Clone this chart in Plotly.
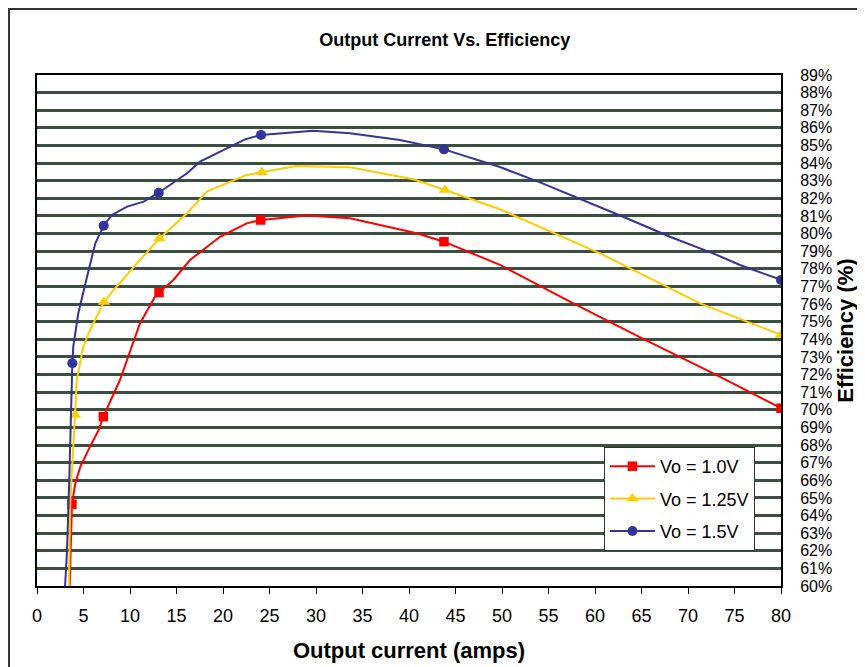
import plotly.graph_objects as go

# smoothed curves (amps, efficiency %)
red_x = [3.47, 3.58, 3.69, 3.76, 4.12, 4.66, 5.70, 6.63, 7.13, 8.92, 10.18, 11.08, 12.69, 13.12,
         14.66, 16.45, 19.68, 22.55, 24.05, 29.0, 33.66, 40.83, 43.76, 48.35, 49.78, 57.67,
         65.56, 72.72, 80.0]
red_y = [59.21, 61.10, 62.99, 64.64, 65.83, 66.77, 67.91, 68.85, 69.61, 71.69, 73.58, 74.91,
         76.42, 76.65, 77.37, 78.50, 79.82, 80.58, 80.77, 81.02, 80.87, 80.02, 79.54, 78.50,
         78.22, 76.04, 73.92, 72.07, 70.09]

yel_x = [3.41, 3.58, 4.09, 4.27, 4.98, 5.70, 7.20, 8.25, 10.75, 13.17, 16.13, 18.25, 22.55,
         24.16, 27.92, 33.66, 40.46, 43.87, 49.78, 60.54, 71.29, 80.0]
yel_y = [59.21, 64.88, 69.70, 71.69, 73.58, 74.53, 76.12, 76.80, 78.31, 79.72, 81.15, 82.38,
         83.33, 83.48, 83.84, 83.76, 83.08, 82.47, 81.38, 78.88, 76.04, 74.25]

blu_x = [2.98, 3.23, 3.47, 3.62, 3.80, 3.90, 4.44, 5.38, 6.27, 7.17, 8.06, 9.68, 11.47, 13.09,
         16.13, 17.53, 22.37, 24.09, 29.68, 33.66, 39.03, 43.76, 49.78, 54.09, 58.71, 63.41,
         68.06, 72.69, 75.59, 80.0]
blu_y = [59.60, 62.04, 66.02, 69.80, 72.64, 73.58, 75.48, 77.55, 79.45, 80.45, 81.06, 81.53,
         81.81, 82.32, 83.42, 84.08, 85.35, 85.60, 85.84, 85.69, 85.31, 84.78, 83.78, 82.91,
         81.91, 80.87, 79.82, 78.88, 78.22, 77.37]

# measured points (markers)
red_mx = [3.76, 7.13, 13.12, 24.05, 43.76, 80.0]
red_my = [64.64, 69.61, 76.65, 80.77, 79.54, 70.09]
yel_mx = [4.09, 7.20, 13.17, 24.16, 43.87, 80.0]
yel_my = [69.70, 76.12, 79.72, 83.48, 82.47, 74.25]
blu_mx = [3.80, 7.17, 13.09, 24.09, 43.76, 80.0]
blu_my = [72.64, 80.45, 82.32, 85.60, 84.78, 77.37]

series = [
    ("Vo = 1.0V", "#FF0000", "square", 9.5, red_x, red_y, red_mx, red_my),
    ("Vo = 1.25V", "#FFCC00", "triangle-up", 11, yel_x, yel_y, yel_mx, yel_my),
    ("Vo = 1.5V", "#333399", "circle", 10, blu_x, blu_y, blu_mx, blu_my),
]

FONT = "Liberation Sans, Arial, sans-serif"

fig = go.Figure()
for name, color, symbol, size, cx, cy, mx, my in series:
    fig.add_trace(go.Scatter(x=cx, y=cy, mode="lines", line=dict(color=color, width=2),
                             showlegend=False, hoverinfo="skip"))
    fig.add_trace(go.Scatter(x=mx, y=my, mode="markers", showlegend=False,
                             marker=dict(color=color, symbol=symbol, size=size)))
    # legend entry only
    fig.add_trace(go.Scatter(x=[None], y=[None], mode="lines+markers", name=name,
                             legendgroup=name,
                             line=dict(color=color, width=2),
                             marker=dict(color=color, symbol=symbol, size=size)))

# page body has an 8px margin, so the figure is offset by 8px
fig.update_layout(
    width=865, height=667,
    margin=dict(l=29, r=92, t=67, b=89),
    paper_bgcolor="white", plot_bgcolor="white",
    font=dict(family=FONT, size=18, color="black"),
    title=dict(text="<b>Output Current Vs. Efficiency</b>", font=dict(size=18),
               x=0.505, xanchor="center", xref="container",
               y=1 - 32 / 667, yanchor="middle", yref="container"),
    legend=dict(x=0.762, y=0.272, xanchor="left", yanchor="top",
                bgcolor="white", bordercolor="#333333", borderwidth=1,
                tracegroupgap=6, itemwidth=45, font=dict(size=18)),
    shapes=[dict(type="rect", xref="paper", yref="paper",
                 x0=-0.0376, x1=1.106, y0=-0.2, y1=1.129,
                 line=dict(color="#333333", width=2), layer="below")],
)
fig.update_xaxes(
    range=[0, 80], dtick=5, showgrid=False, automargin=False,
    showline=True, linecolor="black", linewidth=2, mirror=True,
    ticks="outside", ticklen=6, tickcolor="black", ticklabelstandoff=6,
    title=dict(text="<b>Output current (amps)</b>", standoff=18),
    zeroline=False,
)
fig.update_yaxes(
    range=[60, 89], dtick=1, ticksuffix="%", side="right", automargin=False,
    tickfont=dict(size=16),
    showgrid=True, gridcolor="#3a4f40", gridwidth=3,
    showline=True, linecolor="black", linewidth=2, mirror=True,
    ticks="", ticklabelstandoff=14,
    title=dict(text="<b>Efficiency (%)</b>", standoff=6),
    zeroline=False,
)

fig.write_html("out.html")
